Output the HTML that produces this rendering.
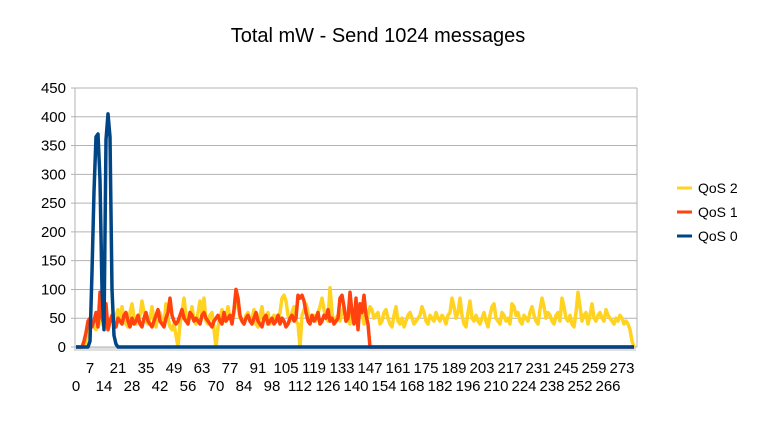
<!DOCTYPE html>
<html><head><meta charset="utf-8"><style>
body{margin:0;background:#fff;}
svg{display:block;font-family:"Liberation Sans",sans-serif;}
</style></head><body>
<svg id="chart" width="757" height="426">
<text x="378" y="42" text-anchor="middle" font-size="20">Total mW - Send 1024 messages</text>
<g id="grid"></g><g id="ticks"></g><g id="series"></g><g id="labels"></g>
<g>
<g><line x1="677" y1="188" x2="692" y2="188" stroke="#ffd320" stroke-width="3"/><text x="698" y="193" font-size="14">QoS 2</text></g>
<g><line x1="677" y1="212" x2="692" y2="212" stroke="#ff420e" stroke-width="3"/><text x="698" y="217" font-size="14">QoS 1</text></g>
<g><line x1="677" y1="236" x2="692" y2="236" stroke="#004586" stroke-width="3"/><text x="698" y="241" font-size="14">QoS 0</text></g>
</g>
</svg>
<script>
const yTicks=[0,50,100,150,200,250,300,350,400,450];
const qos2=[0,0,0,0,0,10,30,45,40,35,30,50,45,40,35,40,30,45,50,40,55,65,45,70,50,40,35,60,75,50,40,45,55,80,60,45,40,50,70,45,35,55,60,45,40,75,50,35,30,40,20,0,40,60,85,55,45,50,70,45,40,60,80,55,85,45,40,55,60,30,0,35,50,65,45,55,70,50,45,60,95,70,50,45,40,55,60,45,50,65,40,35,55,70,45,50,60,40,45,55,50,45,60,85,90,80,55,45,60,70,45,40,0,55,65,75,60,45,50,55,45,60,70,85,65,50,45,103,60,40,50,55,45,60,70,45,50,40,60,55,45,50,55,60,40,45,55,70,65,50,55,60,40,45,60,65,50,40,35,55,70,45,40,50,35,45,55,60,50,40,45,50,55,70,60,45,40,55,50,45,60,50,45,55,50,40,55,60,85,70,50,60,85,55,40,35,60,80,50,45,55,45,40,50,60,45,35,55,70,75,50,45,40,60,55,45,50,40,75,70,55,60,45,40,55,50,45,60,70,55,45,40,65,85,70,50,60,55,45,40,55,60,45,85,70,50,45,55,40,35,60,95,70,45,55,60,40,55,75,50,45,55,60,50,45,65,55,50,45,40,50,45,55,50,40,45,40,30,10,0];
const qos1=[0,0,0,0,10,25,45,50,35,45,60,35,95,50,40,75,30,45,55,40,35,50,45,40,55,60,45,35,50,40,45,55,40,35,50,60,45,40,35,45,55,65,45,40,35,50,60,85,55,45,40,45,55,65,50,45,40,60,55,45,50,45,40,55,60,50,45,40,35,45,50,55,45,40,60,45,50,55,40,65,100,85,55,45,40,50,55,45,40,50,60,45,40,35,50,55,40,45,50,40,45,55,40,50,45,35,40,50,55,45,50,90,85,90,80,60,45,40,55,45,50,60,40,45,55,50,65,45,50,40,45,50,85,90,70,45,50,95,60,40,85,30,75,60,90,55,40,0];
const qos0=[0,0,0,0,0,0,0,10,130,270,365,370,290,100,30,360,405,365,100,20,5];
const N=280;
const L=75,R=637,T=88,B=347,YMAX=450;
const step=2;
const xs=i=>L+(i+0.5)*step;
const ys=v=>B-(v/YMAX)*(B-T);
const ns="http://www.w3.org/2000/svg";
function mk(t,a,p){const e=document.createElementNS(ns,t);for(const k in a)e.setAttribute(k,a[k]);p.appendChild(e);return e;}
const grid=document.getElementById('grid'),ticks=document.getElementById('ticks'),ser=document.getElementById('series'),lab=document.getElementById('labels');
yTicks.forEach(v=>{
 const g=mk('line',{x1:L-4,x2:R,y1:ys(v),y2:ys(v),stroke:'#b3b3b3','stroke-width':1},grid);
 
 
 const t=mk('text',{x:66,y:ys(v)+5,'text-anchor':'end','font-size':15},lab);
 t.textContent=v;
 
 
});
mk('line',{x1:L,x2:L,y1:T,y2:B+4,stroke:'#b3b3b3'},grid);
mk('line',{x1:R,x2:R,y1:T,y2:B,stroke:'#b3b3b3'},grid);
for(let i=0;i<=N;i++){mk('line',{x1:L+i*step,x2:L+i*step,y1:B,y2:B+4,stroke:'#b3b3b3','stroke-width':0.8},ticks);}
for(let i=0;i<N;i+=7){
 const row=(i/7)%2===1?0:1;
 const t=mk('text',{x:xs(i),y:row?391:373,'text-anchor':'middle','font-size':15},lab);
 t.textContent=i;
 
 
}
function series(arr,color,name){
 let d='';for(let i=0;i<N;i++){const v=i<arr.length?arr[i]:0;d+=(i?'L':'M')+xs(i).toFixed(1)+','+ys(v).toFixed(1);}
 const p=mk('path',{d:d,fill:'none',stroke:color,'stroke-width':3.5,'stroke-linejoin':'round'},ser);
 
 
}
series(qos2,'#ffd320','qos2-line');
series(qos1,'#ff420e','qos1-line');
series(qos0,'#004586','qos0-line');
</script>
</body></html>
